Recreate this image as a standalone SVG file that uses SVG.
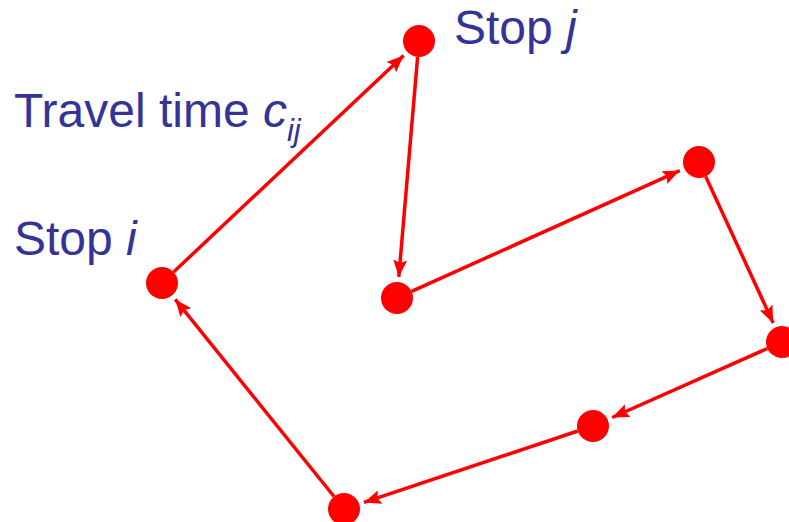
<svg xmlns="http://www.w3.org/2000/svg" width="789" height="522" viewBox="0 0 789 522">
<style>
.lbl{font-family:"Liberation Sans",Arial,sans-serif;font-size:48px;fill:#333399}
.it{font-style:italic}
.node{fill:#ff0000}
.edge{stroke:#ff0000;stroke-width:3.5;fill:none;marker-end:url(#ah)}
</style>
<defs>
<marker id="ah" markerUnits="userSpaceOnUse" markerWidth="18" markerHeight="14" refX="17" refY="7" orient="auto">
<path d="M0,0 L17,7 L0,14 L3,7 Z" fill="#ff0000"/>
</marker>
</defs>
<rect width="789" height="522" fill="#ffffff"/>
<g id="connectors">
<line class="edge" x1="173.6" y1="272" x2="403.7" y2="55.4"/>
<line class="edge" x1="417.6" y1="57" x2="398.8" y2="277"/>
<line class="edge" x1="411.6" y1="291.4" x2="679.8" y2="170.6"/>
<line class="edge" x1="705.7" y1="176.5" x2="773.2" y2="322.9"/>
<line class="edge" x1="767.4" y1="348.5" x2="612.2" y2="417.5"/>
<line class="edge" x1="577.8" y1="431" x2="364" y2="502.4"/>
<line class="edge" x1="334" y1="496.5" x2="175.2" y2="299.4"/>
</g>
<g id="stop-i"><circle class="node" cx="162" cy="283" r="16"/></g>
<g id="stop-j"><circle class="node" cx="419" cy="41" r="16"/></g>
<g id="n3"><circle class="node" cx="397" cy="298" r="16"/></g>
<g id="n4"><circle class="node" cx="699" cy="162" r="16"/></g>
<g id="n5"><circle class="node" cx="782" cy="342" r="16"/></g>
<g id="n6"><circle class="node" cx="593" cy="426" r="16"/></g>
<g id="n7"><circle class="node" cx="344" cy="509" r="16"/></g>
<g id="labels">
<text class="lbl" x="454" y="44">Stop <tspan class="it">j</tspan></text>
<text class="lbl" x="14" y="127">Travel time <tspan class="it">c</tspan><tspan class="it" font-size="31" dy="14">ij</tspan></text>
<text class="lbl" x="14" y="255">Stop <tspan class="it">i</tspan></text>
</g>
</svg>
